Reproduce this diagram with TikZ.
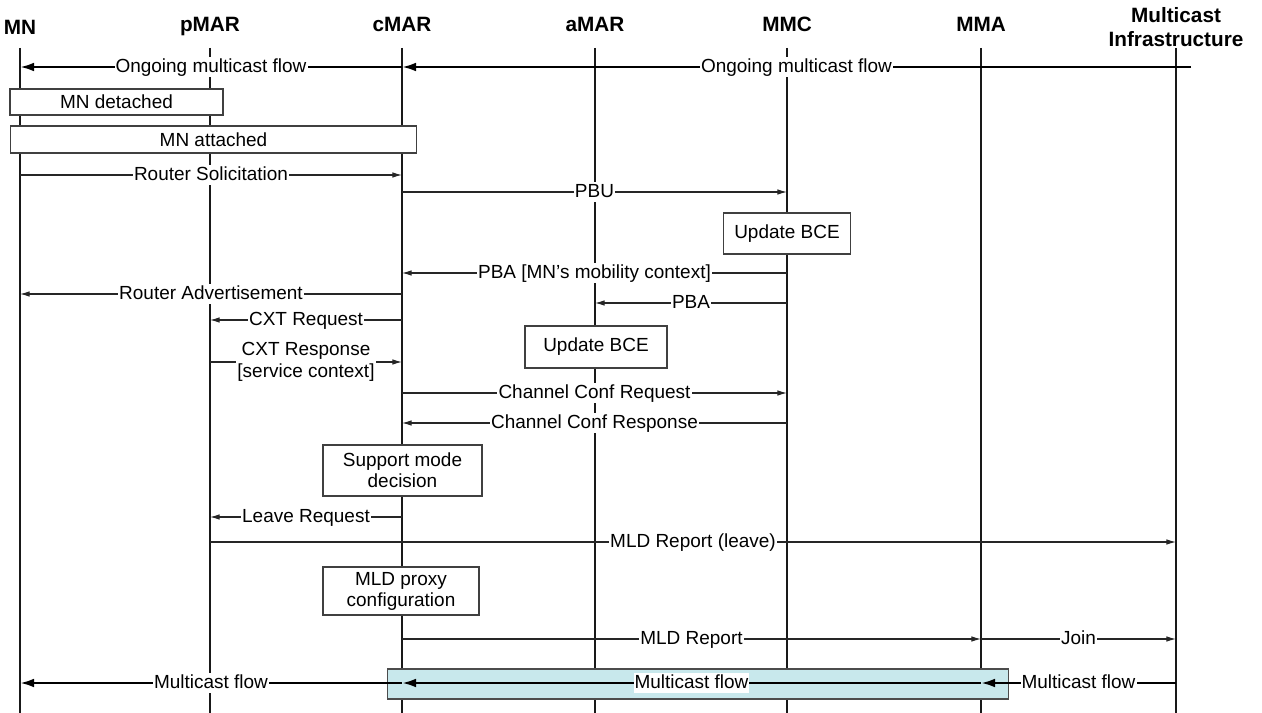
\documentclass[tikz,border=0pt]{standalone}
\usepackage{fontspec}
\setmainfont{Liberation Sans}
\usetikzlibrary{arrows.meta,
  calc,
  positioning
}

\definecolor{tunnelbg}{HTML}{C8E8EC}

\tikzset{
  lifeline/.style={line width=0.8pt,black!90},
  msg/.style={line width=0.6pt,black!85,-{Latex[length=5.5pt,width=3.2pt]}},
  flow/.style={line width=1.4pt,black,-{Latex[length=8pt,width=5pt]}},
  lbl/.style={fill=white,inner xsep=0.6pt,inner ysep=0.8pt,align=center,
    text height=8pt,text depth=2pt,text=black,font=\fontsize{10.8}{12.5}\selectfont},
  actor/.style={anchor=base,align=center,font=\fontsize{11.8}{13.8}\selectfont\bfseries},
  action/.style={draw=black!75,fill=white,line width=0.6pt,align=center,inner sep=0pt,
    font=\fontsize{10.8}{12}\selectfont}
}

\begin{document}
\begin{tikzpicture}[x=0.02cm,y=-0.02cm]
  \useasboundingbox (0,0) rectangle (1262,713);

  % entities
  \node[actor] (MN) at (20,35) {MN};
  \node[actor] (pMAR) at (210,32) {pMAR};
  \node[actor] (cMAR) at (402,32) {cMAR};
  \node[actor] (aMAR) at (595,32) {aMAR};
  \node[actor] (MMC) at (787,32) {MMC};
  \node[actor] (MMA) at (981,32) {MMA};
  \node[actor] (MI) at (1176,47) {Multicast\\Infrastructure};

  \foreach \n in {MN,pMAR,cMAR,aMAR,MMC,MMA,MI}
    \draw[lifeline] (\n |- 0,48) -- (\n |- 0,713);

  % local actions
  \node[action,minimum width=4.26cm,minimum height=0.52cm] (detached) at (116.5,102) {MN detached};
  \node[action,minimum width=8.14cm,minimum height=0.54cm] (attached) at (213.5,139.5) {MN attached};
  \node[action,minimum width=2.54cm,minimum height=0.82cm] (bceMMC) at (MMC |- 0,233.5) {Update BCE};
  \node[action,minimum width=2.84cm,minimum height=0.84cm] (bceaMAR) at (596,347) {Update BCE};
  \node[action,minimum width=3.18cm,minimum height=1.02cm] (decision) at (402.5,470.5) {Support mode\\decision};
  \node[action,minimum width=3.12cm,minimum height=0.96cm] (proxy) at (401,591) {MLD proxy\\configuration};
  \node[draw=black!70,fill=tunnelbg,line width=0.6pt,minimum width=12.44cm,minimum height=0.6cm,inner sep=0pt]
    (tunnel) at (698,684) {};

  % ongoing flow
  \coordinate (src) at (1191,67);
  \draw[flow] (cMAR |- 0,67) -- node[lbl] {Ongoing multicast flow} (MN |- 0,67);
  \draw[flow] (src) -- node[lbl] {Ongoing multicast flow} (cMAR |- 0,67);

  % signalling
  \draw[msg] (MN |- 0,175) -- node[lbl] {Router Solicitation} (cMAR |- 0,175);
  \draw[msg] (cMAR |- 0,192) -- node[lbl] {PBU} (MMC |- 0,192);
  \draw[msg] (MMC |- 0,273) -- node[lbl] {PBA [MN’s mobility context]} (cMAR |- 0,273);
  \draw[msg] (cMAR |- 0,294) -- node[lbl] {Router Advertisement} (MN |- 0,294);
  \draw[msg] (MMC |- 0,303) -- node[lbl] {PBA} (aMAR |- 0,303);
  \draw[msg] (cMAR |- 0,320) -- node[lbl] {CXT Request} (pMAR |- 0,320);
  \draw[msg] (pMAR |- 0,362) -- node[lbl,text height=,text depth=] {CXT Response\\{[}service context{]}} (cMAR |- 0,362);
  \draw[msg] (cMAR |- 0,393) -- node[lbl] {Channel Conf Request} (MMC |- 0,393);
  \draw[msg] (MMC |- 0,423) -- node[lbl] {Channel Conf Response} (cMAR |- 0,423);
  \draw[msg] (cMAR |- 0,517) -- node[lbl] {Leave Request} (pMAR |- 0,517);
  \draw[msg] (pMAR |- 0,542) -- node[lbl] {MLD Report (leave)} (MI |- 0,542);
  \draw[msg] (cMAR |- 0,639) -- node[lbl] {MLD Report} (MMA |- 0,639);
  \draw[msg] (MMA |- 0,639) -- node[lbl] {Join} (MI |- 0,639);

  % multicast flow after handover
  \draw[flow] (MI |- 0,683) -- node[lbl] {Multicast flow} (MMA |- 0,683);
  \draw[flow] (MMA |- 0,683) -- node[lbl] {Multicast flow} (cMAR |- 0,683);
  \draw[flow] (cMAR |- 0,683) -- node[lbl] {Multicast flow} (MN |- 0,683);
\end{tikzpicture}
\end{document}
